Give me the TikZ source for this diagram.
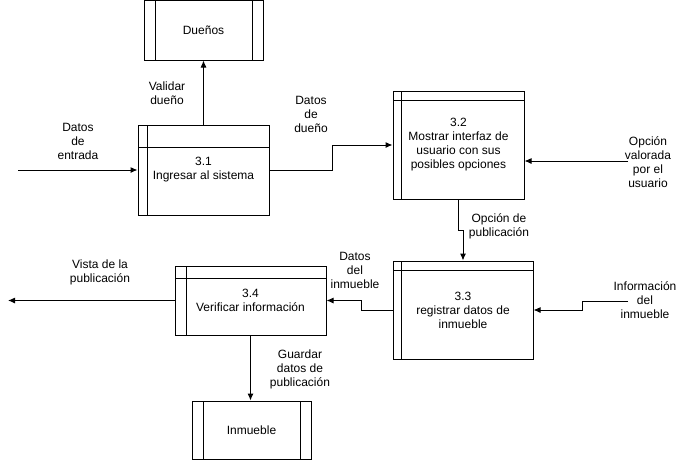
\documentclass[tikz,border=0pt]{standalone}
\usepackage{fontspec}
\setmainfont{Liberation Sans}
\usetikzlibrary{arrows.meta}

\tikzset{
  texto/.style={font=\fontsize{12}{14}\selectfont, align=center, inner sep=0pt},
  proceso/.style 2 args={draw, line width=1pt, texto, fill=white,
    path picture={
      \draw[line width=1pt] ([xshift=#1]path picture bounding box.north west) -- ([xshift=#1]path picture bounding box.south west);
      \draw[line width=1pt] ([yshift=-#2]path picture bounding box.north west) -- ([yshift=-#2]path picture bounding box.north east);
    }},
  almacen/.style={draw, line width=1pt, texto, fill=white,
    path picture={
      \draw[line width=1pt] ([xshift=11pt]path picture bounding box.north west) -- ([xshift=11pt]path picture bounding box.south west);
      \draw[line width=1pt] ([xshift=-11pt]path picture bounding box.north east) -- ([xshift=-11pt]path picture bounding box.south east);
    }},
  flujo/.style={line width=1pt, -{Latex[length=7pt,width=6pt]}},
  etiqueta/.style={texto}
}

\begin{document}
\begin{tikzpicture}[x=1pt, y=-1pt]
  \useasboundingbox (0,0) rectangle (681,461);

  % Almacenes de datos
  \node[almacen, minimum width=119pt, minimum height=59.5pt] (duenos) at (203.5,30.25) {Dueños};
  \node[almacen, minimum width=119pt, minimum height=58pt] (inmueble) at (251.5,430) {Inmueble};

  % Procesos
  \node[proceso={9pt}{22pt}, minimum width=131pt, minimum height=90pt] (p31) at (203.5,170) {3.1\\Ingresar al sistema};
  \node[proceso={8pt}{9pt}, minimum width=131pt, minimum height=108pt] (p32) at (458.5,145) {3.2\\Mostrar interfaz de\\usuario con sus\\posibles opciones};
  \node[proceso={8pt}{9pt}, minimum width=140pt, minimum height=98pt] (p33) at (463,310) {3.3\\registrar datos de\\inmueble};
  \node[proceso={11pt}{12pt}, minimum width=151pt, minimum height=69pt] (p34) at (250.5,300.5) {3.4\\Verificar información};

  % Extremos libres
  \coordinate (entrada) at (18,170);
  \coordinate (valorada) at (628,161);
  \coordinate (info) at (628,301);
  \coordinate (vista) at (8,300.5);

  % Flujos
  \draw[flujo] (entrada) -- (p31.west);
  \draw[flujo] (p31.north) -- (duenos.south);
  \draw[flujo] (p31.east) -- ++(63,0) |- (p32.west);
  \draw[flujo] (valorada) -- (valorada -| p32.east);
  \draw[flujo] (p32.south) -- ++(0,31) -| (p33.north);
  \draw[flujo] (info) -- ++(-46,0) |- (p33.east);
  \draw[flujo] (p33.west) -- ++(-31,0) |- (p34.east);
  \draw[flujo] (p34.west) -- (vista);
  \draw[flujo] (p34.south) -- (p34.south |- inmueble.north);

  % Etiquetas
  \node[etiqueta] (l-entrada) at (78,141) {Datos\\de\\entrada};
  \node[etiqueta] (l-validar) at (167,93.5) {Validar\\dueño};
  \node[etiqueta] (l-dueno) at (311,114) {Datos\\de\\dueño};
  \node[etiqueta] (l-valorada) at (648,162.5) {Opción\\valorada\\por el\\usuario};
  \node[etiqueta] (l-opcion) at (499,226) {Opción de\\publicación};
  \node[etiqueta] (l-info) at (645,300) {Información\\del\\inmueble};
  \node[etiqueta] (l-datos) at (355,270) {Datos\\del\\inmueble};
  \node[etiqueta] (l-vista) at (100,272) {Vista de la\\publicación};
  \node[etiqueta] (l-guardar) at (300,369) {Guardar\\datos de\\publicación};
\end{tikzpicture}
\end{document}
